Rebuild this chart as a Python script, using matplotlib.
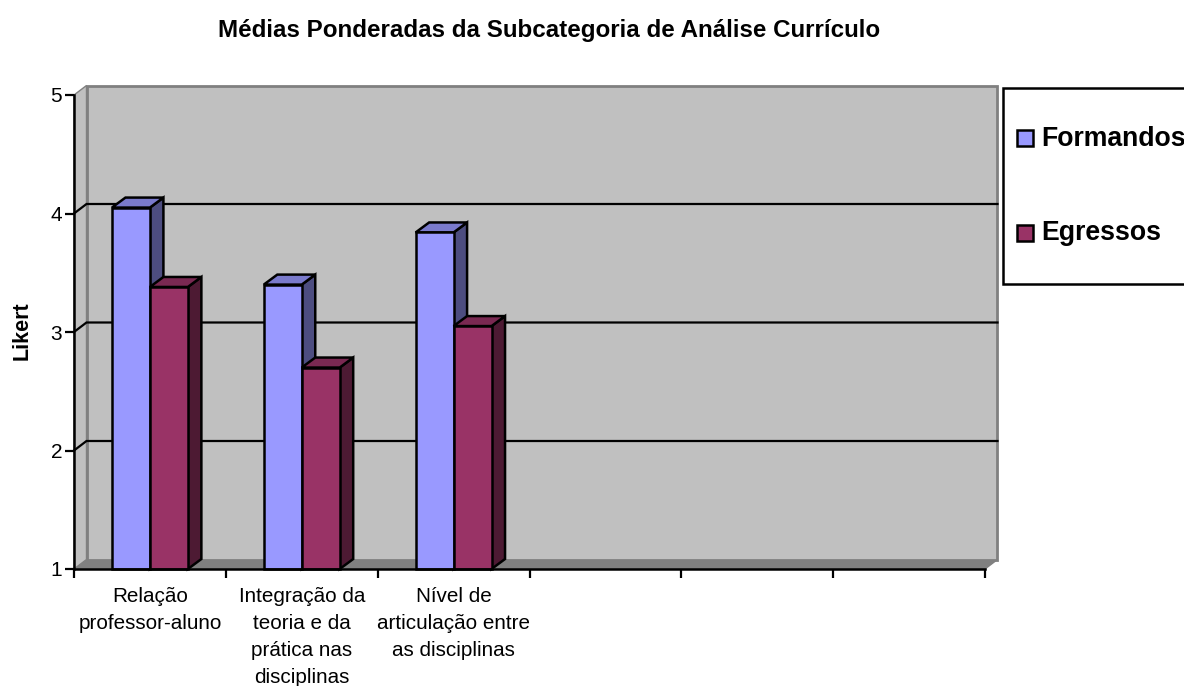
import matplotlib
matplotlib.use("Agg")
import matplotlib.pyplot as plt
from matplotlib.patches import Rectangle

plt.rcParams['font.family'] = ['Liberation Sans', 'DejaVu Sans']

categories = ["Relação\nprofessor-aluno",
              "Integração da\nteoria e da\nprática nas\ndisciplinas",
              "Nível de\narticulação entre\nas disciplinas",
              "", "", ""]
formandos = [4.05, 3.40, 3.84]
egressos = [3.38, 2.70, 3.05]
y_ticks = [1, 2, 3, 4, 5]
series_names = ["Formandos", "Egressos"]

W, H = 1184, 686
fig = plt.figure(figsize=(W / 100, H / 100), dpi=100)

# front plane of the fake 3d box, in pixels
left, right, top, bottom = 74, 985, 95, 569
ax = fig.add_axes([left / W, 1 - bottom / H, (right - left) / W, (bottom - top) / H])
ax.set_xlim(0, 6)
ax.set_ylim(1, 5)
ax.patch.set_visible(False)
for s in ["top", "right"]:
    ax.spines[s].set_visible(False)
for s in ["left", "bottom"]:
    ax.spines[s].set_linewidth(1.8)

# depth of the box and of the bars, converted to data units
dx = 12.5 / ((right - left) / 6)
dy = 9.5 / ((bottom - top) / 4)
bar_w = 0.25
bar_dx = 13.5 / ((right - left) / 6)
bar_dy = 10 / ((bottom - top) / 4)

# walls and floor
ax.fill([0, 6, 6 + dx, dx], [1, 1, 1 + dy, 1 + dy], fc="#808080", ec="#808080", lw=1.0,
        clip_on=False, zorder=1)
ax.fill([0, dx, dx, 0], [1, 1 + dy, 5 + dy, 5], fc="#c0c0c0", ec="#808080", lw=1.0,
        clip_on=False, zorder=1)
ax.fill([dx, 6 + dx, 6 + dx, dx], [1 + dy, 1 + dy, 5 + dy, 5 + dy], fc="#c0c0c0",
        ec="#808080", lw=2, clip_on=False, zorder=1.5)

# grid lines on the wall
for v in y_ticks[1:-1]:
    ax.plot([0, dx, 6 + dx], [v, v + dy, v + dy], color="black", lw=1.6, clip_on=False,
            zorder=2, solid_joinstyle="miter")


def draw_bar(x0, val, front, side, top_c, z):
    ax.bar(x0, val - 1, bar_w, bottom=1, align="edge", color=front, edgecolor="black",
           linewidth=1.8, zorder=z + 0.2, clip_on=False)
    ax.fill([x0 + bar_w, x0 + bar_w + bar_dx, x0 + bar_w + bar_dx, x0 + bar_w],
            [1, 1 + bar_dy, val + bar_dy, val], fc=side, ec="black", lw=1.8, zorder=z,
            clip_on=False)
    ax.fill([x0, x0 + bar_dx, x0 + bar_w + bar_dx, x0 + bar_w],
            [val, val + bar_dy, val + bar_dy, val], fc=top_c, ec="black", lw=1.8, zorder=z,
            clip_on=False)


for i in range(len(formandos)):
    draw_bar(i + 0.5 - bar_w, formandos[i], "#9999ff", "#4d4d80", "#7a7acc", 3 + i * 2)
    draw_bar(i + 0.5, egressos[i], "#993366", "#4d1a33", "#7a2952", 4 + i * 2)

ax.spines["left"].set_zorder(20)
ax.spines["bottom"].set_zorder(20)

ax.set_yticks(y_ticks)
ax.set_xticks(range(7))
ax.set_xticklabels([""] * 7)
ax.tick_params(axis="both", length=6.5, width=1.6, labelsize=15)
ax.tick_params(axis="y", pad=2)

# category labels sit between the ticks
for i, c in enumerate(categories):
    ax.annotate(c, (i + 0.5, 1), xytext=(0, -18), xycoords="data", textcoords="offset pixels",
                ha="center", va="top", fontsize=14.9, linespacing=1.54, annotation_clip=False)

fig.text(549.5 / W, 1 - 31 / H, "Médias Ponderadas da Subcategoria de Análise Currículo",
         ha="center", va="center", fontsize=17.4, fontweight="bold")
fig.text(22 / W, 1 - 331 / H, "Likert", rotation=90, ha="center", va="center",
         fontsize=15.5, fontweight="bold")

# legend box runs off the right edge of the image
fig.add_artist(Rectangle((1003 / W, 1 - 283.5 / H), 300 / W, 195.5 / H, fc="white", ec="black",
                         lw=1.8, transform=fig.transFigure, clip_on=False))
colors = ["#9999ff", "#993366"]
for name, col, yp in zip(series_names, colors, [137.5, 232.5]):
    fig.add_artist(Rectangle((1017 / W, 1 - (yp + 8) / H), 16 / W, 16 / H, fc=col, ec="black",
                             lw=1.8, transform=fig.transFigure))
    fig.text(1041 / W, 1 - (yp + 1) / H, name, ha="left", va="center", fontsize=19.2,
             fontweight="bold")

fig.savefig("out.png", dpi=100)
